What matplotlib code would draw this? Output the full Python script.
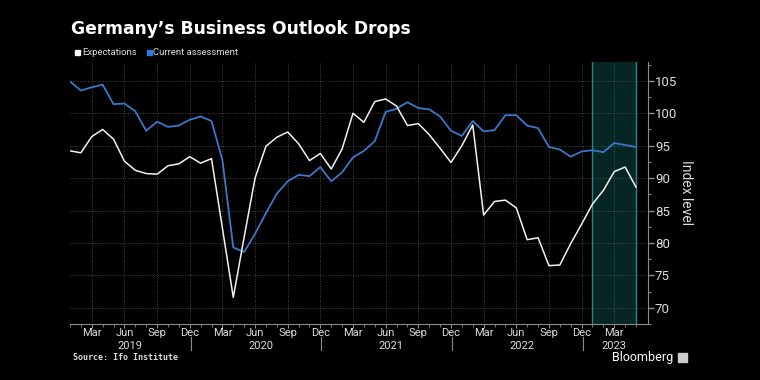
import numpy as np
import pandas as pd
import matplotlib
matplotlib.use("Agg")
import matplotlib.pyplot as plt
from matplotlib.patches import Rectangle

# ── Data (Ifo, Jan 2019 – May 2023) ──────────────────────────────────────────
months = pd.period_range("2019-01", "2023-05", freq="M")

expectations = [
    94.2, 93.9, 96.4, 97.5, 96.0, 92.6, 91.2, 90.7, 90.6, 91.9, 92.2, 93.3,   # 2019
    92.3, 93.0, 82.3, 71.6, 80.9, 90.0, 94.9, 96.3, 97.1, 95.3, 92.7, 93.8,   # 2020
    91.4, 94.5, 100.0, 98.6, 101.8, 102.2, 101.1, 98.1, 98.4, 96.7, 94.6, 92.4,  # 2021
    95.0, 98.2, 84.3, 86.4, 86.6, 85.4, 80.5, 80.8, 76.5, 76.6, 79.9, 82.9,   # 2022
    86.0, 88.1, 91.0, 91.7, 88.6,                                             # 2023
]
current = [
    104.9, 103.5, 104.0, 104.4, 101.4, 101.5, 100.3, 97.3, 98.7, 97.9, 98.1, 99.0,
    99.5, 98.8, 92.8, 79.3, 78.6, 81.4, 84.6, 87.6, 89.5, 90.5, 90.3, 91.7,
    89.5, 90.9, 93.2, 94.2, 95.7, 100.2, 100.7, 101.7, 100.8, 100.6, 99.5, 97.3,
    96.5, 98.8, 97.2, 97.4, 99.7, 99.7, 98.1, 97.7, 94.8, 94.4, 93.3, 94.1,
    94.3, 94.0, 95.4, 95.1, 94.8,
]
shade_start, shade_end = "2023-01", "2023-05"

BG = "black"
GRID = "#5a5a5a"
TXT = "#dcdcdc"
AXC = "#8a8a8a"
WHITE_LINE = "#f2f2f2"
BLUE_LINE = "#3a78c9"
BLUE_KEY = "#2a7de1"
SANS = ["Roboto", "DejaVu Sans"]

x = np.arange(len(months))

fig = plt.figure(figsize=(7.6, 3.8), dpi=100, facecolor=BG)
ax = fig.add_axes([70 / 760, 56 / 380, 578 / 760, 262 / 380], facecolor=BG)

# shaded window
s0 = months.get_loc(pd.Period(shade_start, "M"))
s1 = months.get_loc(pd.Period(shade_end, "M"))
ax.add_patch(Rectangle((s0, 60), s1 - s0, 60, facecolor="#062626",
                       edgecolor="none", zorder=0))
for xv in (s0, s1):
    ax.axvline(xv, color="#2b8585", lw=1.0, zorder=1)

ax.plot(x, current, color=BLUE_LINE, lw=1.3, zorder=3)
ax.plot(x, expectations, color=WHITE_LINE, lw=1.1, zorder=4)

ax.set_xlim(0, 53.1)
ax.set_ylim(68.2, 107.9)

# grid
qtr = [i for i, p in enumerate(months) if p.month in (3, 6, 9, 12)]
for q in qtr:
    ax.axvline(q, color=GRID, lw=0.6, ls=(0, (1, 2)), zorder=1)
for yv in range(70, 110, 5):
    ax.axhline(yv, color=GRID, lw=0.6, ls=(0, (1, 2)), zorder=1)

# y axis on right
for side in ("top", "left"):
    ax.spines[side].set_visible(False)
ax.spines["right"].set_color(AXC)
ax.spines["bottom"].set_color(AXC)
ax.yaxis.tick_right()
ax.yaxis.set_label_position("right")
ax.set_yticks(range(70, 110, 5))
ax.set_yticks(np.arange(67.5, 108, 2.5), minor=True)
ax.tick_params(axis="y", which="major", colors=AXC, labelcolor=TXT,
               labelsize=9.5, length=4, width=1, pad=1)
ax.tick_params(axis="y", which="minor", colors=AXC, length=2, width=0.8)
for lab in ax.get_yticklabels():
    lab.set_family(SANS)
ax.set_ylabel("Index level", color=TXT, fontsize=10, rotation=270,
              labelpad=11, family=SANS)

# x axis: monthly minor ticks, quarter labels
ax.set_xticks(x, minor=True)
ax.set_xticks(qtr)
ax.set_xticklabels([months[q].strftime("%b") for q in qtr], family=SANS)
ax.tick_params(axis="x", which="major", colors=AXC, labelcolor=TXT,
               labelsize=8, length=3, pad=0)
ax.tick_params(axis="x", which="minor", colors=AXC, length=2)

years = sorted(set(p.year for p in months))
for yr in years:
    idx = [i for i, p in enumerate(months) if p.year == yr]
    ax.text(idx[0] + 5.5 if len(idx) == 12 else idx[0] + 2, -0.083, str(yr),
            transform=ax.get_xaxis_transform(), ha="center", va="center",
            color=TXT, fontsize=8, family=SANS)
    if yr != years[0]:
        ax.plot([idx[0] - 0.9] * 2, [-0.05, -0.10],
                transform=ax.get_xaxis_transform(), color=AXC,
                lw=0.8, clip_on=False)

# titles / legend / footer
fig.text(71 / 760, 1 - 29 / 380, "Germany\u2019s Business Outlook Drops",
         color="white", fontsize=12.3, fontweight="bold", va="center")
fig.patches.append(Rectangle((75 / 760, 1 - 55 / 380), 5 / 760, 5 / 380,
                             transform=fig.transFigure, color="white"))
fig.text(82 / 760, 1 - 52.5 / 380, "Expectations", color=TXT, fontsize=6.8,
         va="center", family=SANS)
fig.patches.append(Rectangle((147 / 760, 1 - 55 / 380), 5 / 760, 5 / 380,
                             transform=fig.transFigure, color=BLUE_KEY))
fig.text(153 / 760, 1 - 52.5 / 380, "Current assessment", color=TXT,
         fontsize=6.8, va="center", family=SANS)
fig.text(73 / 760, 1 - 358 / 380, "Source: Ifo Institute", color=TXT,
         fontsize=6, fontweight="bold", family="DejaVu Sans Mono", va="center")
fig.text(673 / 760, 1 - 357 / 380, "Bloomberg", color="white", fontsize=9,
         ha="right", va="center", family=SANS)
fig.patches.append(Rectangle((678 / 760, 1 - 362 / 380), 9 / 760, 9 / 380,
                             transform=fig.transFigure, color="#cccccc"))

fig.savefig("out.png", dpi=100, facecolor=BG)
